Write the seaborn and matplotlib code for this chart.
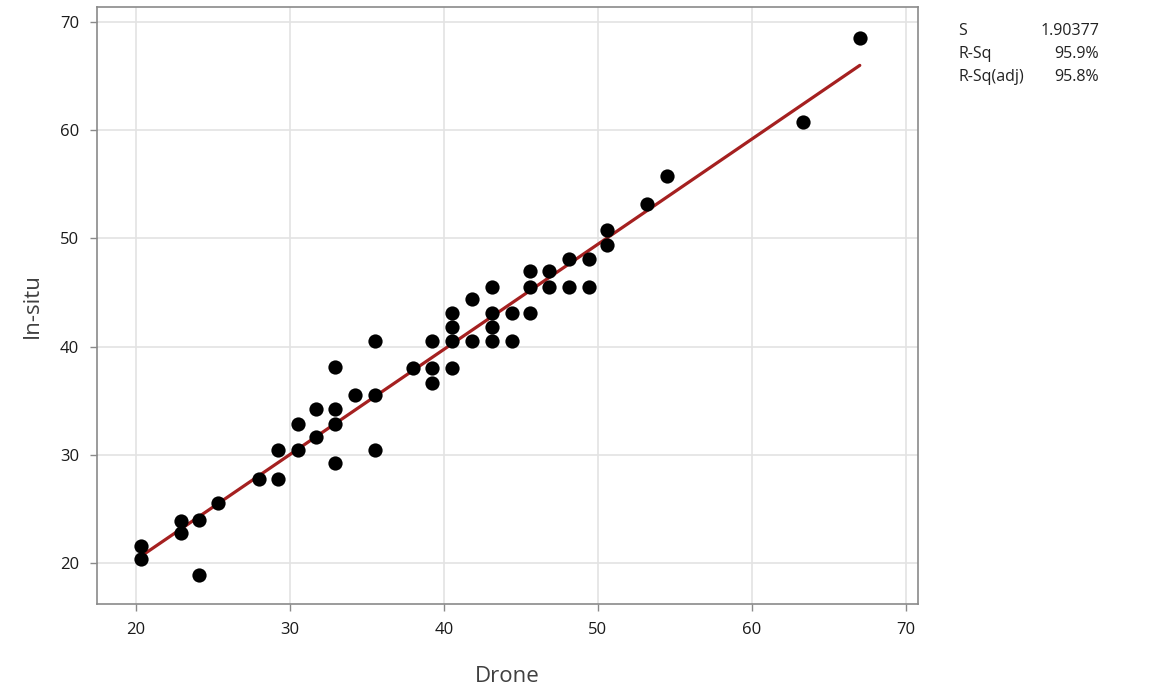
import matplotlib
matplotlib.use("Agg")
import matplotlib.pyplot as plt
import seaborn as sns
import pandas as pd

drone = [20.3, 20.3, 22.9, 22.9, 24.1, 24.1, 25.3, 28.0, 29.2, 29.2,
         30.5, 30.5, 31.7, 31.7, 32.9, 32.9, 32.9, 32.9, 34.2, 35.5,
         35.5, 35.5, 38.0, 39.2, 39.2, 39.2, 40.5, 40.5, 40.5, 40.5,
         41.8, 41.8, 43.1, 43.1, 43.1, 43.1, 44.4, 44.4, 45.6, 45.6,
         45.6, 46.8, 46.8, 48.1, 48.1, 49.4, 49.4, 50.6, 50.6, 53.2,
         54.5, 63.3, 67.0]
insitu = [21.6, 20.4, 23.9, 22.8, 24.0, 18.9, 25.5, 27.8, 30.4, 27.8,
          32.8, 30.4, 34.2, 31.6, 38.1, 34.2, 32.8, 29.2, 35.5, 40.5,
          35.5, 30.4, 38.0, 40.5, 38.0, 36.6, 43.1, 41.8, 40.5, 38.0,
          44.4, 40.5, 45.5, 43.1, 41.8, 40.5, 43.1, 40.5, 47.0, 45.5,
          43.1, 47.0, 45.5, 48.1, 45.5, 48.1, 45.5, 50.8, 49.4, 53.2,
          55.8, 60.8, 68.5]

stat_names = ["S", "R-Sq", "R-Sq(adj)"]
stat_values = ["1.90377", "95.9%", "95.8%"]

x_ticks = [20, 30, 40, 50, 60, 70]
y_ticks = [20, 30, 40, 50, 60, 70]

df = pd.DataFrame({"Drone": drone, "In-situ": insitu})

sns.set_theme(style="white")
plt.rcParams["font.family"] = ["Open Sans", "DejaVu Sans"]

fig = plt.figure(figsize=(11.68, 6.91), dpi=100)
ax = fig.add_axes([97 / 1168, 87 / 691, (918 - 97) / 1168, (604 - 7) / 691])

sns.regplot(data=df, x="Drone", y="In-situ", ax=ax, ci=None, truncate=True,
            scatter_kws=dict(s=105, color="black", edgecolor="black", linewidths=0,
                             alpha=1, zorder=3),
            line_kws=dict(color="#a52020", lw=2.3, zorder=2))

ax.set_xlim(17.47, 70.78)
ax.set_ylim(16.2, 71.4)
ax.set_xticks(x_ticks)
ax.set_yticks(y_ticks)
ax.grid(True, color="#e3e3e3", lw=1.2)
ax.set_axisbelow(True)
for sp in ax.spines.values():
    sp.set_color("#8a8a8a")
    sp.set_linewidth(1.2)
ax.tick_params(axis="both", which="both", direction="out", length=5, width=1,
               color="#8a8a8a", labelsize=12, labelcolor="#1a1a1a", pad=8,
               bottom=True, left=True)
ax.set_xlabel("Drone", fontsize=16, color="#404040", labelpad=20)
ax.set_ylabel("In-situ", fontsize=16, color="#404040", labelpad=12)

ys = [31, 54, 77]
for name, val, yp in zip(stat_names, stat_values, ys):
    fig.text(958 / 1168, 1 - yp / 691, name, fontsize=11.5, color="#222222",
             ha="left", va="center")
    fig.text(1099 / 1168, 1 - yp / 691, val, fontsize=11.5, color="#222222",
             ha="right", va="center")

fig.savefig("out.png", dpi=100)
